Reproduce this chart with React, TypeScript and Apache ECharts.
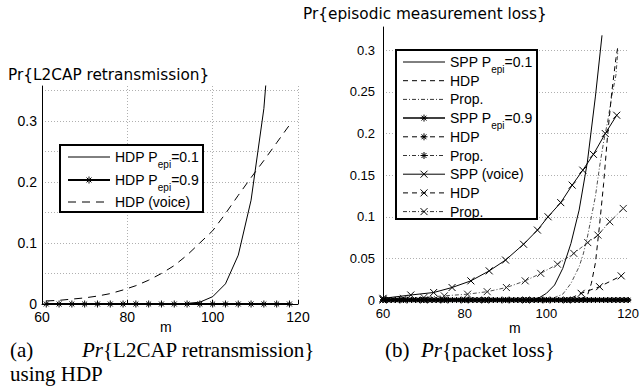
import React, { useEffect, useRef } from "react";
import * as echarts from "echarts";

// ---------- Left panel: Pr{L2CAP retransmission} ----------
const leftM = [61, 64, 67, 70, 73, 76, 79, 82, 85, 88, 91, 94, 97, 100, 103, 106, 109, 112, 115, 118];
const leftHdpP01 = [0, 0, 0, 0, 0, 0, 0, 0, 0, 0, 0, 0.001, 0.003, 0.012, 0.033, 0.08, 0.17, 0.32, 0.58, 1.0];
const leftHdpP09 = [0, 0, 0, 0, 0, 0, 0, 0, 0, 0, 0, 0, 0, 0, 0, 0, 0, 0, 0, 0];
const leftHdpVoice = [0.005, 0.006, 0.008, 0.01, 0.013, 0.017, 0.023, 0.03, 0.039, 0.05, 0.063, 0.08, 0.1, 0.12, 0.148, 0.178, 0.207, 0.235, 0.264, 0.293];

// ---------- Right panel: Pr{episodic measurement loss} ----------
const rightSppP01 = [[60, 0], [66, 0], [72, 0], [78, 0], [84, 0], [90, 0], [96, 0], [98, 0.002], [100, 0.008], [102, 0.018], [104, 0.038], [106, 0.068], [108, 0.108], [110, 0.165], [112, 0.245], [113.6, 0.318]];
const rightHdpP01 = [[60, 0], [70, 0], [80, 0], [90, 0], [100, 0], [108, 0], [110, 0.005], [111, 0.02], [112, 0.045], [113, 0.09], [114, 0.14], [115, 0.2], [116, 0.25], [117, 0.29], [117.5, 0.305]];
const rightPropP01 = [[60, 0], [70, 0], [80, 0], [90, 0], [100, 0.001], [102, 0.003], [104, 0.007], [106, 0.02], [108, 0.04], [109, 0.055], [110, 0.075], [111, 0.1], [112, 0.125], [113, 0.16], [114, 0.19], [115, 0.215], [116, 0.245], [117, 0.27], [117.5, 0.3]];
const rightP09M = [60, 61, 62, 63, 64, 65, 66, 67, 68, 69, 70, 71, 72, 73, 74, 75, 76, 77, 78, 79, 80, 81, 82, 83, 84, 85, 86, 87, 88, 89, 90, 91, 92, 93, 94, 95, 96, 97, 98, 99, 100, 101, 102, 103, 104, 105, 106, 107, 108, 109, 110, 111, 112, 113, 114, 115, 116, 117, 118, 119, 120];
const rightSppP09 = [0, 0, 0, 0, 0, 0, 0, 0, 0, 0, 0, 0, 0, 0, 0, 0, 0, 0, 0, 0, 0, 0, 0, 0, 0, 0, 0, 0, 0, 0, 0, 0, 0, 0, 0, 0, 0, 0, 0, 0, 0, 0, 0, 0, 0, 0, 0, 0, 0, 0, 0, 0, 0, 0, 0, 0, 0, 0, 0, 0, 0];
const rightHdpP09 = [0, 0, 0, 0, 0, 0, 0, 0, 0, 0, 0, 0, 0, 0, 0, 0, 0, 0, 0, 0, 0, 0, 0, 0, 0, 0, 0, 0, 0, 0, 0, 0, 0, 0, 0, 0, 0, 0, 0, 0, 0, 0, 0, 0, 0, 0, 0, 0, 0, 0, 0, 0, 0, 0, 0, 0, 0, 0, 0, 0, 0];
const rightPropP09 = [0, 0, 0, 0, 0, 0, 0, 0, 0, 0, 0, 0, 0, 0, 0, 0, 0, 0, 0, 0, 0, 0, 0, 0, 0, 0, 0, 0, 0, 0, 0, 0, 0, 0, 0, 0, 0, 0, 0, 0, 0, 0, 0, 0, 0, 0, 0, 0, 0, 0, 0, 0, 0, 0, 0, 0, 0, 0, 0, 0, 0];
const rightSppVoice = [[60, 0.002], [66.8, 0.006], [72.4, 0.009], [76.9, 0.015], [81.5, 0.023], [86, 0.035], [90, 0.048], [94.4, 0.067], [97.8, 0.084], [100.4, 0.1], [103.5, 0.117], [106.3, 0.138], [108.9, 0.156], [111.5, 0.175], [114.4, 0.2], [117.2, 0.222]];
const rightHdpVoice = [[60, 0], [65, 0], [70, 0], [75, 0], [80, 0], [85, 0], [90, 0], [95, 0], [100, 0], [105, 0], [108.5, 0.008], [113, 0.016], [118.3, 0.029]];
const rightPropVoice = [[60, 0.001], [65, 0.002], [70, 0.003], [75, 0.005], [80.7, 0.007], [85.5, 0.01], [90.2, 0.015], [94.8, 0.023], [98.6, 0.032], [102.7, 0.043], [106.7, 0.056], [110.1, 0.069], [112.6, 0.078], [115.5, 0.094], [118.8, 0.11]];
const rightGreen = [[108.6, 0], [119.3, 0]];

const leftYTicks = [0, 0.1, 0.2, 0.3];
const xTicks = [60, 80, 100, 120];

const STAR = "path://M0,-10L0,10M-10,0L10,0M-7,-7L7,7M-7,7L7,-7";
const XMARK = "path://M-10,-10L10,10M-10,10L10,-10";
const SANS = "Liberation Sans";
const TITLE_FONT = "DejaVu Sans";
const SERIF = "Liberation Serif";
const DASH = [5, 4];
const LONGDASH = [8, 6];
const DASHDOT = [4, 2, 1, 2];

function fmt(v: number) {
  return String(Number(v.toFixed(2)));
}

function mkSeries(name: string, idx: number, data: any[], dash: any, width: number, symbol: string | null, symSize: number, color = "#000") {
  return {
    name,
    type: "line",
    xAxisIndex: idx,
    yAxisIndex: idx,
    data,
    clip: true,
    symbol: symbol || "none",
    symbolSize: symSize,
    showSymbol: !!symbol,
    lineStyle: { color, width, type: dash },
    itemStyle: { color, borderColor: color, borderWidth: 1 },
    emphasis: { disabled: true },
    silent: true,
  };
}

function markerGroup(kind: string, cx: number, cy: number, r: number) {
  const segs =
    kind === "star"
      ? [[0, -r, 0, r], [-r, 0, r, 0], [-0.7 * r, -0.7 * r, 0.7 * r, 0.7 * r], [-0.7 * r, 0.7 * r, 0.7 * r, -0.7 * r]]
      : [[-r, -r, r, r], [-r, r, r, -r]];
  return segs.map((s) => ({
    type: "line",
    shape: { x1: cx + s[0], y1: cy + s[1], x2: cx + s[2], y2: cy + s[3] },
    style: { stroke: "#000", lineWidth: 1 },
  }));
}

function legendRow(x1: number, x2: number, tx: number, y: number, dash: any, width: number, marker: string | null, text: string, fs: number) {
  const els: any[] = [
    {
      type: "line",
      shape: { x1, y1: y, x2, y2: y },
      style: { stroke: "#000", lineWidth: width, lineDash: dash },
    },
  ];
  if (marker) els.push(...markerGroup(marker, (x1 + x2) / 2, y, 3.5));
  els.push({
    type: "text",
    x: tx,
    y,
    style: {
      text,
      fill: "#000",
      fontFamily: SANS,
      fontSize: fs,
      align: "left",
      verticalAlign: "middle",
      rich: {
        n: { fontFamily: SANS, fontSize: fs, lineHeight: 24 },
        s: { fontFamily: SANS, fontSize: fs - 4, lineHeight: 12, verticalAlign: "bottom" },
      },
    },
  });
  return els;
}

function txt(x: number, y: number, text: string, font: string, size: number, extra: any = {}) {
  return {
    type: "text",
    x,
    y,
    style: { text, fill: "#000", fontFamily: font, fontSize: size, align: "left", verticalAlign: "middle", ...extra },
  };
}

export default function App() {
  const ref = useRef<HTMLDivElement>(null);
  useEffect(() => {
    if (!ref.current) return;
    const chart = echarts.init(ref.current, null, { renderer: "svg" });
    const gridLine = { show: true, lineStyle: { color: "#b0b0b0", type: [1, 2], width: 1 } };
    const axisLbl = { color: "#000", fontFamily: SANS, fontSize: 13 };
    const italic = { rich: { i: { fontFamily: SERIF, fontSize: 21, fontStyle: "italic" } } };

    const leftLegend = [
      ...legendRow(68, 110, 115, 157, null, 1, null, "{n|HDP P}{s|epi}{n|=0.1}", 14),
      ...legendRow(68, 110, 115, 180, null, 2, "star", "{n|HDP P}{s|epi}{n|=0.9}", 14),
      ...legendRow(68, 110, 115, 202, LONGDASH, 1, null, "{n|HDP (voice)}", 14),
    ];
    const rl = [
      { dash: null, w: 1, m: null, t: "{n|SPP P}{s|epi}{n|=0.1}" },
      { dash: DASH, w: 1, m: null, t: "{n|HDP}" },
      { dash: DASHDOT, w: 0.8, m: null, t: "{n|Prop.}" },
      { dash: null, w: 1.5, m: "star", t: "{n|SPP P}{s|epi}{n|=0.9}" },
      { dash: DASH, w: 1, m: "star", t: "{n|HDP}" },
      { dash: DASHDOT, w: 0.8, m: "star", t: "{n|Prop.}" },
      { dash: null, w: 1, m: "x", t: "{n|SPP (voice)}" },
      { dash: DASH, w: 1, m: "x", t: "{n|HDP}" },
      { dash: DASHDOT, w: 0.8, m: "x", t: "{n|Prop.}" },
    ];
    const rightLegend: any[] = [];
    rl.forEach((r, i) => rightLegend.push(...legendRow(403, 445, 450, 62 + i * 18.7, r.dash, r.w, r.m, r.t, 14)));

    const option: any = {
      animation: false,
      grid: [
        { left: 42, top: 86, width: 256, height: 218 },
        { left: 383, top: 27, width: 252, height: 273 },
      ],
      xAxis: [
        {
          type: "value", gridIndex: 0, min: 60, max: 120, interval: 20,
          axisLine: { show: true, onZero: false, lineStyle: { color: "#000", width: 1 } },
          axisTick: { show: true, inside: true, length: 4, lineStyle: { color: "#000" } },
          axisLabel: { ...axisLbl, fontSize: 14, margin: 6, formatter: (v: number) => (xTicks.includes(v) ? String(v) : "") },
          splitLine: { ...gridLine, showMinLine: false, showMaxLine: true },
        },
        {
          type: "value", gridIndex: 1, min: 60, max: 120, interval: 20,
          axisLine: { show: true, onZero: false, lineStyle: { color: "#000", width: 1 } },
          axisTick: { show: false },
          axisLabel: { ...axisLbl, margin: 7, formatter: (v: number) => (xTicks.includes(v) ? String(v) : "") },
          splitLine: { show: false },
        },
      ],
      yAxis: [
        {
          type: "value", gridIndex: 0, min: 0, max: 0.357, interval: 0.05,
          axisLine: { show: true, onZero: false, lineStyle: { color: "#000", width: 1 } },
          axisTick: { show: false },
          axisLabel: {
            ...axisLbl, fontSize: 14, margin: 5, showMaxLabel: false,
            formatter: (v: number) => (leftYTicks.some((t) => Math.abs(t - v) < 1e-6) ? fmt(v) : ""),
          },
          splitLine: { ...gridLine, showMinLine: false, showMaxLine: false },
        },
        {
          type: "value", gridIndex: 1, min: 0, max: 0.328, interval: 0.05,
          axisLine: { show: true, onZero: false, lineStyle: { color: "#000", width: 1 } },
          axisTick: { show: false },
          axisLabel: { ...axisLbl, margin: 8, showMaxLabel: false, formatter: (v: number) => (v > 0.31 ? "" : fmt(v)) },
          splitLine: { ...gridLine, showMinLine: false, showMaxLine: false },
        },
      ],
      series: [
        mkSeries("HDP Pepi=0.1", 0, leftM.map((m, i) => [m, leftHdpP01[i]]), "solid", 1, null, 0),
        mkSeries("HDP (voice)", 0, leftM.map((m, i) => [m, leftHdpVoice[i]]), LONGDASH, 1, null, 0),
        mkSeries("HDP Pepi=0.9", 0, leftM.map((m, i) => [m, leftHdpP09[i]]), "solid", 2, STAR, 7),

        mkSeries("SPP Pepi=0.1", 1, rightSppP01, "solid", 1, null, 0),
        mkSeries("HDP Pepi=0.1 (b)", 1, rightHdpP01, DASH, 1, null, 0),
        mkSeries("Prop. Pepi=0.1", 1, rightPropP01, DASHDOT, 0.8, null, 0, "#222"),
        mkSeries("SPP (voice)", 1, rightSppVoice, "solid", 1, XMARK, 7),
        mkSeries("HDP (voice) (b)", 1, rightHdpVoice, DASH, 1, XMARK, 7),
        mkSeries("Prop. (voice)", 1, rightPropVoice, DASHDOT, 0.8, XMARK, 7, "#222"),
        mkSeries("SPP Pepi=0.9", 1, rightP09M.map((m, i) => [m, rightSppP09[i]]), "solid", 1.5, STAR, 6),
        mkSeries("HDP Pepi=0.9 (b)", 1, rightP09M.map((m, i) => [m, rightHdpP09[i]]), DASH, 1, STAR, 6),
        mkSeries("Prop. Pepi=0.9", 1, rightP09M.map((m, i) => [m, rightPropP09[i]]), DASHDOT, 1, STAR, 6),
        mkSeries("green", 1, rightGreen, [6, 4], 1.5, null, 0, "#4a9a3a"),
      ],
      graphic: [
        txt(8, 75, "Pr{L2CAP retransmission}", TITLE_FONT, 15.3),
        txt(303, 14, "Pr{episodic measurement loss}", TITLE_FONT, 15.3),
        txt(160, 327, "m", SANS, 14),
        txt(509, 328, "m", SANS, 14),
        txt(10, 350, "(a)", SERIF, 21),
        txt(82, 350, "{i|Pr}{L2CAP retransmission}", SERIF, 21, italic),
        txt(10, 374, "using HDP", SERIF, 21),
        txt(385, 350, "(b)", SERIF, 21),
        txt(421, 350, "{i|Pr}{packet loss}", SERIF, 21, italic),
        {
          type: "rect",
          shape: { x: 60, y: 145, width: 143, height: 67 },
          style: { fill: "#fff", stroke: "#000", lineWidth: 2 },
          z: 100,
        },
        ...leftLegend.map((e) => ({ ...e, z: 101 })),
        {
          type: "rect",
          shape: { x: 396, y: 50, width: 141, height: 169 },
          style: { fill: "#fff", stroke: "#000", lineWidth: 2 },
          z: 100,
        },
        ...rightLegend.map((e) => ({ ...e, z: 101 })),
      ],
    };
    chart.setOption(option);
    return () => chart.dispose();
  }, []);
  return <div ref={ref} style={{ position: "absolute", left: 0, top: 0, width: 642, height: 387, background: "#fff" }} />;
}
